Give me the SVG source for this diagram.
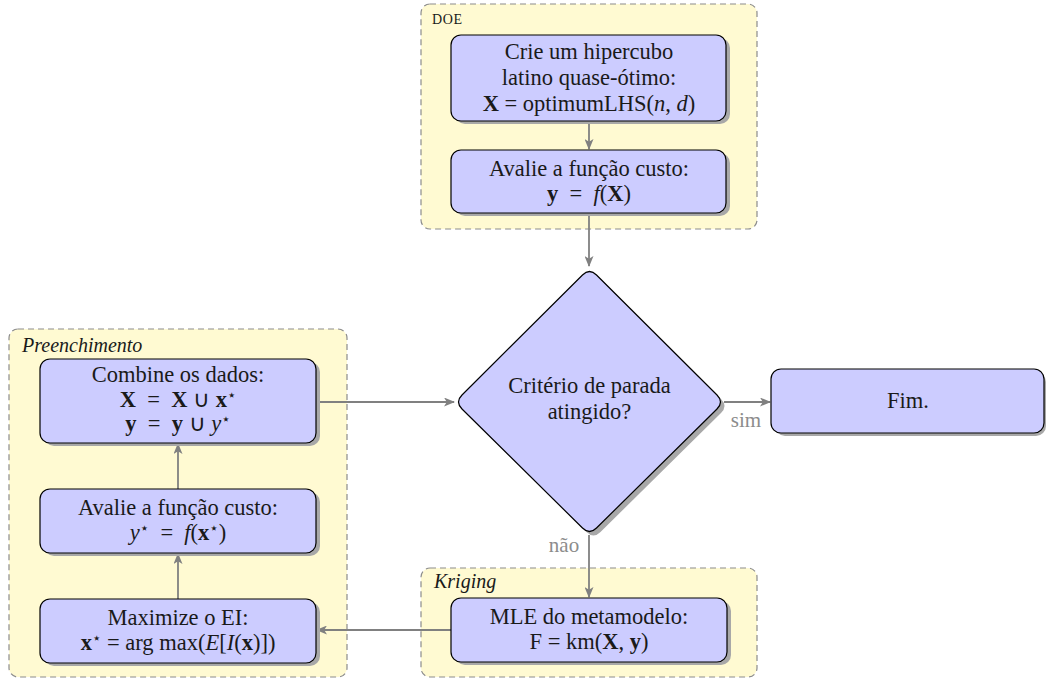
<svg xmlns="http://www.w3.org/2000/svg" width="1046" height="679" viewBox="0 0 1046 679">
<defs>
<style>
.cont{fill:#fffad2;stroke:#8c8c8c;stroke-width:1.2;stroke-dasharray:6 4}
.box{fill:#ccccff;stroke:#000;stroke-width:1.2}
.sh{fill:#a8a8a8}
.t{font-family:'Liberation Serif','Times New Roman',serif;font-size:22.5px;fill:#1a1a1a;text-anchor:middle}
.lbl{font-family:'Liberation Serif','Times New Roman',serif;font-size:20px;font-style:italic;fill:#1a1a1a}
.sc{font-family:'Liberation Serif','Times New Roman',serif;font-size:14px;letter-spacing:0.6px;fill:#1a1a1a}
.gl{font-family:'Liberation Serif','Times New Roman',serif;font-size:21px;fill:#8c8c8c;text-anchor:middle}
.b{font-weight:bold}
.i{font-style:italic}
.st{font-family:'DejaVu Sans',sans-serif;font-size:15px}
.edge{stroke:#808080;stroke-width:1.8;fill:none}
</style>
<marker id="arr" markerWidth="11" markerHeight="9" refX="10" refY="4.5" orient="auto" markerUnits="userSpaceOnUse">
<path d="M0,0 L11,4.5 L0,9 L2.8,4.5 Z" fill="#808080"/>
</marker>
</defs>

<g id="doe-group">
<rect class="cont" x="421" y="4" width="336" height="225" rx="9"/>
<text class="sc" x="432" y="24">DOE</text>
</g>
<g id="preenchimento-group">
<rect class="cont" x="9" y="329" width="338" height="348" rx="9"/>
<text class="lbl" x="22" y="352">Preenchimento</text>
</g>
<g id="kriging-group">
<rect class="cont" x="421" y="568" width="336" height="109" rx="9"/>
<text class="lbl" x="434" y="588">Kriging</text>
</g>

<g id="connectors">
<line class="edge" x1="589" y1="121" x2="589" y2="149" marker-end="url(#arr)"/>
<line class="edge" x1="589" y1="213" x2="589" y2="266" marker-end="url(#arr)"/>
<line class="edge" x1="724" y1="402" x2="770" y2="402" marker-end="url(#arr)"/>
<text class="gl" x="746" y="427">sim</text>
<line class="edge" x1="589" y1="535" x2="589" y2="597" marker-end="url(#arr)"/>
<text class="gl" x="564" y="552">não</text>
<line class="edge" x1="451" y1="630" x2="317" y2="630" marker-end="url(#arr)"/>
<line class="edge" x1="178" y1="599" x2="178" y2="554" marker-end="url(#arr)"/>
<line class="edge" x1="178" y1="489" x2="178" y2="444" marker-end="url(#arr)"/>
<line class="edge" x1="316" y1="402" x2="454" y2="402" marker-end="url(#arr)"/>
</g>

<g id="lhs">
<rect class="sh" x="455" y="38" width="275" height="86" rx="10"/>
<rect class="box" x="451" y="35" width="275" height="86" rx="10"/>
<text class="t" x="589" y="59">Crie um hipercubo</text>
<text class="t" x="589" y="85">latino quase-ótimo:</text>
<text class="t" x="589" y="111"><tspan class="b">X</tspan> = optimumLHS(<tspan class="i">n</tspan>, <tspan class="i">d</tspan>)</text>
</g>

<g id="eval1">
<rect class="sh" x="455" y="153" width="275" height="63" rx="10"/>
<rect class="box" x="451" y="150" width="275" height="63" rx="10"/>
<text class="t" x="589" y="176">Avalie a função custo:</text>
<text class="t" x="589" y="201"><tspan class="b">y</tspan>&#160;&#160;=&#160;&#160;<tspan class="i">f</tspan>(<tspan class="b">X</tspan>)</text>
</g>

<g id="decision">
<path class="sh" transform="translate(4,4)" d="M596.5,275 L717,395 Q724,402 717,409 L596.5,528 Q589.5,535 582.5,528 L462,409 Q455,402 462,395 L582.5,275 Q589.5,268 596.5,275 Z"/>
<path class="box" d="M596.5,275 L717,395 Q724,402 717,409 L596.5,528 Q589.5,535 582.5,528 L462,409 Q455,402 462,395 L582.5,275 Q589.5,268 596.5,275 Z"/>
<text class="t" x="589.5" y="393">Critério de parada</text>
<text class="t" x="589.5" y="419">atingido?</text>
</g>

<g id="fim">
<rect class="sh" x="775" y="372" width="271" height="64" rx="10"/>
<rect class="box" x="771" y="369" width="273" height="64" rx="10"/>
<text class="t" x="908" y="408">Fim.</text>
</g>

<g id="combine">
<rect class="sh" x="44" y="362" width="276" height="84" rx="10"/>
<rect class="box" x="40" y="359" width="276" height="84" rx="10"/>
<text class="t" x="178" y="382">Combine os dados:</text>
<text class="t" x="178" y="407"><tspan class="b">X</tspan>&#160;&#160;=&#160;&#160;<tspan class="b">X</tspan> ∪ <tspan class="b">x</tspan><tspan class="st" dy="-7">⋆</tspan></text>
<text class="t" x="178" y="431"><tspan class="b">y</tspan>&#160;&#160;=&#160;&#160;<tspan class="b">y</tspan> ∪ <tspan class="i">y</tspan><tspan class="st" dy="-7">⋆</tspan></text>
</g>

<g id="eval2">
<rect class="sh" x="44" y="492" width="276" height="64" rx="10"/>
<rect class="box" x="40" y="489" width="276" height="64" rx="10"/>
<text class="t" x="178" y="515">Avalie a função custo:</text>
<text class="t" x="178" y="540"><tspan class="i">y</tspan><tspan class="st" dy="-7">⋆</tspan><tspan dy="7">&#160;&#160;=&#160;&#160;</tspan><tspan class="i">f</tspan>(<tspan class="b">x</tspan><tspan class="st" dy="-7">⋆</tspan><tspan dy="7">)</tspan></text>
</g>

<g id="maximize">
<rect class="sh" x="44" y="602" width="276" height="64" rx="10"/>
<rect class="box" x="40" y="599" width="276" height="64" rx="10"/>
<text class="t" x="178" y="625">Maximize o EI:</text>
<text class="t" x="178" y="650"><tspan class="b">x</tspan><tspan class="st" dy="-7">⋆</tspan><tspan dy="7"> = arg max(</tspan><tspan class="i">E</tspan>[<tspan class="i">I</tspan>(<tspan class="b">x</tspan>)])</text>
</g>

<g id="mle">
<rect class="sh" x="455" y="601" width="276" height="64" rx="10"/>
<rect class="box" x="451" y="598" width="276" height="64" rx="10"/>
<text class="t" x="589" y="624">MLE do metamodelo:</text>
<text class="t" x="589" y="649">F = km(<tspan class="b">X</tspan>, <tspan class="b">y</tspan>)</text>
</g>
</svg>
